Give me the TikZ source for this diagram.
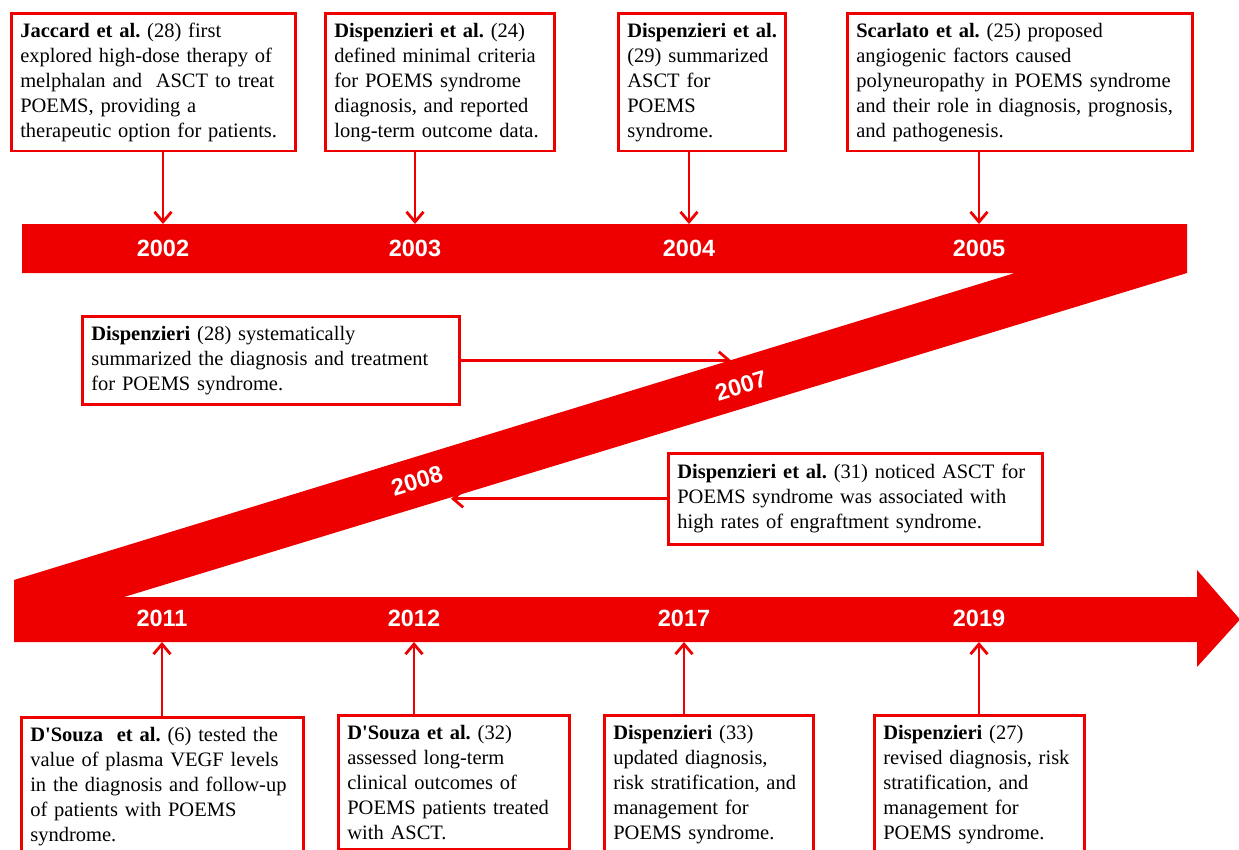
\documentclass[tikz,border=0pt]{standalone}
\usepackage{fontspec}
\setmainfont{Liberation Serif}
\setsansfont{Liberation Sans}
\usetikzlibrary{arrows.meta}
\definecolor{tlred}{RGB}{238,0,0}
\frenchspacing

\begin{document}
\begin{tikzpicture}[x=1pt, y=-1pt,
  card/.style={draw=tlred, line width=2.6pt, anchor=north west, align=left,
    inner xsep=9pt, inner ysep=9.5pt, font=\fontsize{20.5}{25}\selectfont},
  year/.style={text=white, font=\sffamily\bfseries\fontsize{23.5}{26}\selectfont},
  tick/.style={draw=tlred, line width=2.8pt, -{Straight Barb[length=10pt,width=17pt]}}]

\useasboundingbox (0,0) rectangle (1239,849);
\clip (0,0) rectangle (1239,849);
\fill[white] (0,0) rectangle (1239,849);

\fill[tlred] (22,224) -- (1187,224) -- (1187,273) -- (124,597) -- (1197,597) -- (1197,570)
  -- (1240,619.5) -- (1197,667) -- (1197,642) -- (14,642) -- (14,580) -- (1015,273)
  -- (22,273) -- cycle;

\coordinate (bandtop) at (0,224);
\coordinate (bandbot) at (0,642);
\coordinate (hit07) at (731,359);
\coordinate (hit08) at (451,498);

\foreach \yr/\x in {2002/163,2003/415,2004/689,2005/979} {\node[year] (y\yr) at (\x,248) {\yr};}
\foreach \yr/\x in {2011/162,2012/414,2017/684,2019/979} {\node[year] (y\yr) at (\x,618) {\yr};}
\node[year, rotate=17] (y2007) at (741,386) {2007};
\node[year, rotate=17] (y2008) at (417,481) {2008};

\node[card, text width=266pt, minimum height=137pt] (jac) at (10,12)
  {\textbf{Jaccard et al.} (28) first\\ explored high-dose therapy of\\ melphalan and\ \ ASCT to treat\\ POEMS, providing a\\ therapeutic option for patients.};
\node[card, text width=211pt, minimum height=137pt] (dsp24) at (324,12)
  {\textbf{Dispenzieri et al.} (24)\\ defined minimal criteria\\ for POEMS syndrome\\ diagnosis, and reported\\ long-term outcome data.};
\node[card, text width=149pt, minimum height=137pt] (dsp29) at (617,12)
  {\mbox{\textbf{Dispenzieri et al.}}\\ (29) summarized\\ ASCT for\\ POEMS\\ syndrome.};
\node[card, text width=327pt, minimum height=137pt] (sca) at (846,12)
  {\textbf{Scarlato et al.} (25) proposed\\ angiogenic factors caused\\ polyneuropathy in POEMS syndrome\\ and their role in diagnosis, prognosis,\\ and pathogenesis.};

\node[card, text width=359pt, minimum height=88pt] (dsp28) at (81,315)
  {\textbf{Dispenzieri} (28) systematically\\ summarized the diagnosis and treatment\\ for POEMS syndrome.};
\node[card, text width=356pt, minimum height=91pt] (dsp31) at (667,452)
  {\textbf{Dispenzieri et al.} (31) noticed ASCT for\\ POEMS syndrome was associated with\\ high rates of engraftment syndrome.};

\node[card, text width=264pt] (dso6) at (20,716)
  {\textbf{D\textquotesingle Souza\ \ et al.} (6) tested the\\ value of plasma VEGF levels\\ in the diagnosis and follow-up\\ of patients with POEMS\\ syndrome.};
\node[card, text width=213pt] (dso32) at (337,714)
  {\textbf{D\textquotesingle Souza et al.} (32)\\ assessed long-term\\ clinical outcomes of\\ POEMS patients treated\\ with ASCT.};
\node[card, text width=191pt] (dsp33) at (603,714)
  {\textbf{Dispenzieri} (33)\\ updated diagnosis,\\ risk stratification, and\\ management for\\ POEMS syndrome.};
\node[card, text width=192pt] (dsp27) at (873,714)
  {\textbf{Dispenzieri} (27)\\ revised diagnosis, risk\\ stratification, and\\ management for\\ POEMS syndrome.};

\foreach \b/\yr in {jac/2002,dsp24/2003,dsp29/2004,sca/2005}
  {\draw[tick] (\b.south -| y\yr) -- (y\yr |- bandtop);}
\foreach \b/\yr in {dso6/2011,dso32/2012,dsp33/2017,dsp27/2019}
  {\draw[tick] (\b.north -| y\yr) -- (y\yr |- bandbot);}
\draw[tick] (dsp28.east) -- (dsp28.east -| hit07);
\draw[tick] (dsp31.west) -- (dsp31.west -| hit08);

\end{tikzpicture}
\end{document}
